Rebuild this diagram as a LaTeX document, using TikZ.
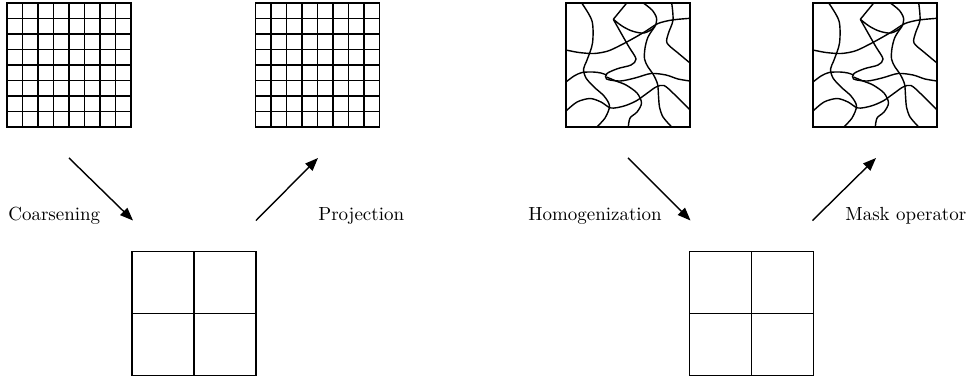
\documentclass[tikz,border=0pt]{standalone}
\usepackage{tikz}
\usetikzlibrary{positioning,arrows.meta,calc}

\tikzset{
  texture/.pic={
    \draw[fibre] plot[smooth] coordinates {(15.7,0) (26,18) (26.5,40) (21,57) (17.5,66) (20,75) (28,84) (38,93) (43.5,103) (39,115) (30.7,124)};
    \draw[fibre] plot[smooth] coordinates {(0,47) (13,49.5) (28,50.5) (42,48) (55,42) (68,35) (80,28) (92,20.5) (106,17) (124,15.3)};
    \draw[fibre] (60.7,0) -- (47.3,16.3);
    \draw[fibre] plot[smooth] coordinates {(47.3,16.3) (55,30) (63,44) (70,56) (65,62) (52,65.5) (41,70.5) (40.5,76) (54,78) (69,75) (85,70.5) (100,72) (112,76) (124,78)};
    \draw[fibre] plot[smooth] coordinates {(77.3,0) (86,7) (90.5,15) (88.5,24) (78,30) (66,28) (56,23) (47.3,16.3)};
    \draw[fibre] plot[smooth] coordinates {(88.5,24) (82,34) (79,45) (78.5,56) (82,64) (87,71) (91.5,81) (92.5,93) (93.5,104) (97,114) (105.7,124)};
    \draw[fibre] plot[smooth] coordinates {(105.7,0) (107,17) (102.5,30) (101,40) (112,50) (124,60)};
    \draw[fibre] plot[smooth] coordinates {(40.5,74) (50,78) (60,82) (71,90) (75.5,100) (71,109) (64,115) (62.3,124)};
    \draw[fibre] plot[smooth] coordinates {(0,79) (8,73) (16,69.5) (27,69) (35,70) (40.5,72)};
    \draw[fibre] plot[smooth] coordinates {(0,108) (11,99) (24,95.5) (35,99) (45,105) (58,103) (70,98) (80,91) (90,84) (98,82.5) (108,91) (124,107)};
  }
}

\begin{document}
\begin{tikzpicture}[
    x=0.02cm, y=-0.02cm,
    cell/.style={draw, line width=0.75pt, minimum size=2.48cm, inner sep=0pt, outer sep=0pt},
    curve/.style={line width=0.65pt},
    fibre/.style={line width=0.8pt},
    arrow/.style={-{Triangle[length=2.6mm,width=2mm]}, line width=0.8pt},
    lbl/.style={inner sep=0pt, anchor=base west, font=\fontsize{10.8}{13}\selectfont}
]
\useasboundingbox (0,0) rectangle (969,378);

% fine meshes and heterogeneous media
\node[cell] (fine1) at (69,65) {};
\node[cell] (fine2) at (317.5,65) {};
\node[cell] (rand1) at (628,65) {};
\node[cell] (rand2) at (875,65) {};
% coarse meshes
\node[cell] (coarse1) at (194,313.5) {};
\node[cell] (coarse2) at (751.5,313.5) {};

\foreach \g in {fine1,fine2}
  \foreach \i in {1,...,7} {
    \draw[curve] ($(\g.north west)!\i/8!(\g.north east)$) -- ($(\g.south west)!\i/8!(\g.south east)$);
    \draw[curve] ($(\g.north west)!\i/8!(\g.south west)$) -- ($(\g.north east)!\i/8!(\g.south east)$);
  }
\foreach \g in {coarse1,coarse2} {
  \draw[curve] (\g.north) -- (\g.south);
  \draw[curve] (\g.west) -- (\g.east);
}
\pic at (rand1.north west) {texture};
\pic at (rand2.north west) {texture};

% arrow ends
\coordinate (c1a) at ($(fine1.south)+(0,31)$);
\coordinate (c1b) at ($(coarse1.north west)+(1,-31)$);
\coordinate (p1a) at ($(coarse1.north east)+(0,-31)$);
\coordinate (p1b) at ($(fine2.south)+(0.5,31)$);
\coordinate (h2a) at ($(rand1.south)+(0,31)$);
\coordinate (h2b) at ($(coarse2.north west)+(1,-31)$);
\coordinate (m2a) at ($(coarse2.north east)+(-1,-31)$);
\coordinate (m2b) at ($(rand2.south)+(1,31)$);

\draw[arrow] (c1a) -- (c1b);
\draw[arrow] (p1a) -- (p1b);
\draw[arrow] (h2a) -- (h2b);
\draw[arrow] (m2a) -- (m2b);

\node[lbl] (coarsening) at (8,220) {Coarsening};
\node[lbl] (projection) at (318,220) {Projection};
\node[lbl] (homog) at (528,220) {Homogenization};
\node[lbl] (mask) at (845,220) {Mask operator};
\end{tikzpicture}
\end{document}
